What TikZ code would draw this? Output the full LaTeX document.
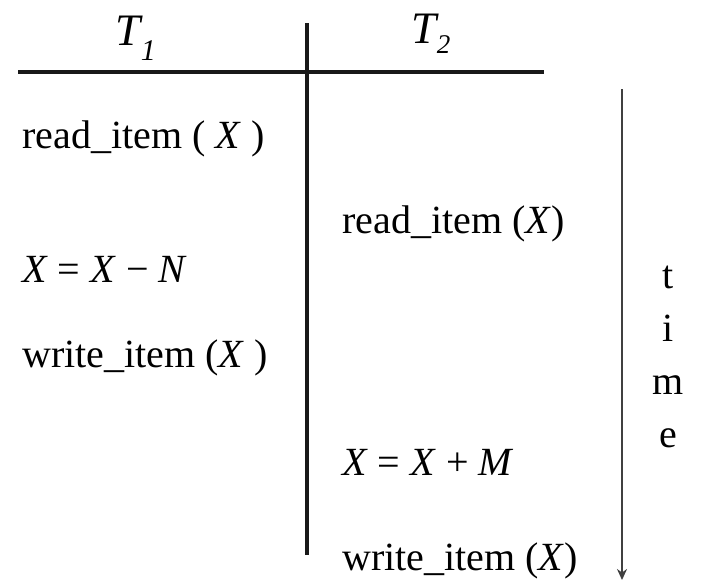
\documentclass[tikz,border=0pt]{standalone}
\usepackage{fontspec}
\setmainfont{Liberation Serif}
\usetikzlibrary{arrows.meta}
\tikzset{
  op/.style={anchor=base west, inner sep=0pt, font=\fontsize{40}{48}\selectfont},
  hdr/.style={anchor=base west, inner sep=0pt, font=\fontsize{45}{50}\selectfont},
  tl/.style={anchor=base, inner sep=0pt, font=\fontsize{40}{48}\selectfont},
  rule/.style={line width=4pt, black!90},
  timearrow/.style={line width=2pt, black!75, -{Stealth[length=11pt,width=10pt]}}
}
\newcommand{\ttsub}[4]{\textit{#1}\kern-2pt\raisebox{-#3pt}{\fontsize{#4}{#4}\selectfont\textit{#2}}}
\begin{document}
\begin{tikzpicture}[x=1pt,y=-1pt]
\useasboundingbox (0,0) rectangle (706,581);
% header
\node[hdr] (t1) at (115,45) {\ttsub{T}{1}{15}{30}};
\node[hdr] (t2) at (411,43) {\ttsub{T}{2}{10}{27}};
% rules
\coordinate (hl) at (18,72);
\coordinate (hr) at (544,72);
\coordinate (vt) at (307,23);
\coordinate (vb) at (307,555);
\draw[rule] (hl) -- (hr);
\draw[rule, line width=3.5pt] (vt) -- (vb);
% T1 operations
\node[op] (r1) at (22,148) {read\_item ( \textit{X} )};
\node[op] (c1) at (22,282) {\textit{X} = \textit{X} − \textit{N}};
\node[op] (w1) at (22,367) {write\_item (\textit{X} )};
% T2 operations
\node[op] (r2) at (342,233) {read\_item (\textit{X})};
\node[op] (c2) at (342,475) {\textit{X} = \textit{X} + \textit{M}};
\node[op] (w2) at (342,570) {write\_item (\textit{X})};
% time arrow
\coordinate (at) at (622,89);
\coordinate (ab) at (622,580);
\draw[timearrow] (at) -- (ab);
\node[tl] (lt) at (668,288) {t};
\node[tl] (li) at (668,341) {i};
\node[tl] (lm) at (668,394) {m};
\node[tl] (le) at (668,447) {e};
\end{tikzpicture}
\end{document}
